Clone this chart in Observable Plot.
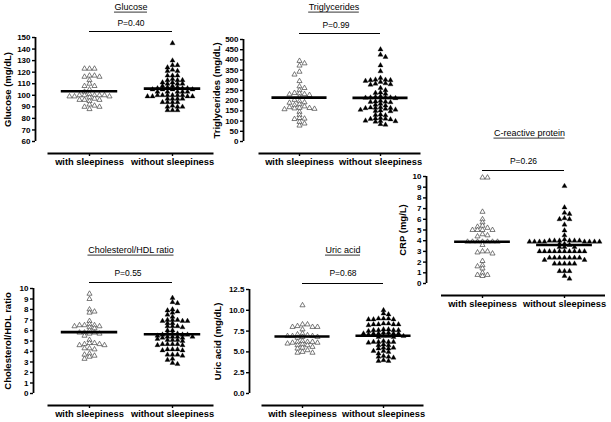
<!DOCTYPE html>
<html><head><meta charset="utf-8">
<script src="https://cdn.jsdelivr.net/npm/d3@7"></script>
<script src="https://cdn.jsdelivr.net/npm/@observablehq/plot@0.6"></script>
<style>
html,body{margin:0;padding:0;background:#fff;}
body{width:611px;height:422px;position:relative;overflow:hidden;font-family:"Liberation Sans",Arial,sans-serif;}
.panel{position:absolute;}
.panel svg{overflow:visible;}
</style></head><body>
<script>
// ---- categories ----
const groups = ["with sleepiness", "without sleepiness"];

// ---- Glucose (mg/dL) ----
const glucoseWith = [123,123,123,117,117,116,116,113,110,108,108,105,103,101,100,100,100,100,100,99,99,99,98,97,96,96,96,95,92,91,90,90,88];
const glucoseWithout = [145,130,126,126,124,122,121,121,117,117,117,114,113,113,113,111,111,110,110,110,108,108,107,107,106,106,106,105,105,105,105,103,103,103,103,103,100,100,100,100,100,100,99,99,99,99,97,97,97,97,94,94,94,94,91,90,90,90,87,87,87];
const glucoseMeans = [103.5, 105.8];
const glucoseTicks = [60,70,80,90,100,110,120,130,140,150];

// ---- Triglycerides (mg/dL) ----
const trigWith = [395,383,372,342,328,296,270,262,251,238,235,232,231,228,218,204,197,192,190,182,178,172,168,165,164,162,160,158,145,130,115,112,110,96,88,78];
const trigWithout = [451,425,414,373,344,311,303,302,300,300,297,292,285,283,280,278,262,251,240,238,234,222,218,216,215,215,214,212,200,196,195,194,192,185,180,176,168,166,165,164,163,160,156,155,152,150,148,132,130,128,115,113,112,110,108,102,100,99,97,85,82];
const trigMeans = [215, 214];
const trigTicks = [0,50,100,150,200,250,300,350,400,450,500];

// ---- C-reactive protein (mg/L) ----
const crpWith = [9.9,9.9,6.7,6.0,5.7,5.4,5.3,5.2,5.0,5.0,5.0,5.0,4.6,4.5,4.4,3.9,3.9,3.9,3.9,3.9,3.9,3.9,3.6,3.0,3.0,2.9,2.8,2.1,1.7,1.6,1.4,1.0,0.8,0.8,0.7];
const crpWithout = [9.1,7.1,6.6,6.5,6.0,6.0,6.1,5.5,4.95,4.5,4.1,4.0,4.0,4.0,3.9,3.9,3.9,3.9,4.0,4.0,3.9,3.9,4.0,3.9,3.9,3.7,3.6,3.7,3.4,3.4,3.4,3.0,3.0,3.0,3.0,3.0,3.0,3.0,3.0,3.0,3.0,2.4,2.4,2.4,2.4,2.4,2.4,2.4,2.2,2.2,1.85,1.85,1.85,1.85,1.85,1.15,1.15,1.15,0.7,0.45];
const crpMeans = [3.9, 3.6];
const crpTicks = [0,1,2,3,4,5,6,7,8,9,10];

// ---- Cholesterol/HDL ratio ----
const cholWith = [9.5,9.0,8.0,7.8,7.7,6.9,6.6,6.5,6.5,6.5,6.4,6.4,6.3,6.2,6.0,5.8,5.8,5.8,5.7,5.7,5.5,5.1,4.8,4.8,4.7,4.7,4.6,4.6,4.3,4.3,4.2,3.8,3.7,3.6,3.5,3.3];
const cholWithout = [9.1,8.7,8.6,8.0,7.9,7.8,7.7,7.5,7.3,7.0,7.0,7.0,6.9,6.9,6.9,6.7,6.7,6.4,6.4,6.4,6.3,6.0,6.0,5.7,5.7,5.7,5.6,5.6,5.6,5.5,5.4,5.4,5.4,5.4,5.3,5.3,5.2,5.1,5.1,5.1,5.0,4.7,4.7,4.7,4.7,4.6,4.6,4.2,4.2,4.2,4.1,4.1,3.7,3.7,3.7,3.6,3.3,3.2,2.9,2.8];
const cholMeans = [5.85, 5.65];
const cholTicks = [0,1,2,3,4,5,6,7,8,9,10];

// ---- Uric acid (mg/dL) ----
const uricWith = [10.6,8.3,8.3,8.1,8.0,8.0,8.0,7.7,7.2,7.1,7.0,6.9,6.9,6.9,6.8,6.8,6.7,6.3,6.2,6.2,6.2,6.1,6.1,6.0,5.9,5.8,5.8,5.6,5.5,5.4,5.0,4.9,4.9,5.2];
const uricWithout = [10.0,9.6,9.5,9.0,9.0,8.9,8.9,8.9,9.0,8.4,8.3,8.3,8.3,8.3,8.2,8.4,7.6,7.6,7.7,7.6,7.5,7.6,7.7,7.2,7.2,7.3,7.2,7.1,7.2,7.3,7.2,6.9,6.9,6.8,6.8,6.9,6.2,6.2,6.3,6.2,6.1,6.2,5.9,5.8,5.8,5.5,5.4,5.4,5.5,5.1,5.1,5.0,4.8,4.4,4.4,4.5,4.3,3.9,3.9,4.0];
const uricMeans = [6.85, 6.95];
const uricTicks = [0,2.5,5,7.5,10,12.5];

// ---- texts ----
const titles = ["Glucose", "Triglycerides", "C-reactive protein", "Cholesterol/HDL ratio", "Uric acid"];
const pValues = ["P=0.40", "P=0.99", "P=0.26", "P=0.55", "P=0.68"];
const yLabels = ["Glucose (mg/dL)", "Triglycerides (mg/dL)", "CRP (mg/L)", "Cholesterol/HDL ratio", "Uric acid (mg/dL)"];

// beeswarm-like spreading (layout only)
function swarm(values, gi, pxPerY, stepUnits) {
  const order = values.map((v, i) => i).sort((a, b) => values[b] - values[a]);
  const placed = [], out = [];
  let side = 1;
  for (const i of order) {
    const v = values[i];
    let o = 0;
    for (let k = 0; k < 60; k++) {
      const cands = k === 0 ? [0] : [k * side, -k * side];
      const ok = cands.find(c => placed.every(q => Math.abs(q.o - c) >= 1 || Math.abs(q.v - v) * pxPerY >= 3.0));
      if (ok !== undefined) { o = ok; break; }
    }
    if (o !== 0) side = -Math.sign(o);
    placed.push({o, v});
    out.push({x: gi + o * stepUnits, v});
  }
  return out;
}

const FONT = '"Liberation Sans", Arial, sans-serif';
const TITLE_SIZE = 9;
const measureCtx = document.createElement("canvas").getContext("2d");
measureCtx.font = `${TITLE_SIZE}px "Liberation Sans", Arial, sans-serif`;

function panel(cfg) {
  const {left, top, width, height, axisX, yTopPx, yBotPx, c0, c1, domain, ticks, fmt,
         d0, d1, means, title, pText, yLabel, labelX, titleY, pY, bracketY, titleDx = 0, pDx = 0} = cfg;
  const pxPerY = (yBotPx - yTopPx) / (domain[1] - domain[0]);
  const pxPerX = c1 - c0;
  const step = 5.0 / pxPerX;
  const p0 = swarm(d0, 0, pxPerY, step);
  const p1 = swarm(d1, 1, pxPerY, step);
  const frameBottom = yBotPx + 12 - top;
  const tw = measureCtx.measureText(title).width;
  const plot = Plot.plot({
    width, height,
    marginLeft: axisX - left, marginRight: 0,
    marginTop: yTopPx - top, marginBottom: height - frameBottom,
    x: {domain: [0, 1], range: [c0 - left, c1 - left], label: null},
    y: {domain, range: [yBotPx - top, yTopPx - top], label: null},
    style: {background: "transparent", fontFamily: FONT, color: "#000", overflow: "visible"},
    marks: [
      Plot.ruleX([(axisX - c0) / pxPerX], {y1: domain[0], y2: domain[1], strokeWidth: 1.8, stroke: "#000"}),
      Plot.axisY({ticks, tickFormat: fmt, tickSize: 3, tickPadding: 2, strokeWidth: 1.4, fontSize: 8, fontWeight: "bold", label: null}),
      Plot.ruleY([domain[0]], {x1: -0.5, x2: 1.5, dy: 12, strokeWidth: 2, stroke: "#000"}),
      Plot.axisX({ticks: [0, 1], tickFormat: i => groups[i], tickSize: 3, tickPadding: 2, strokeWidth: 1.4, fontSize: 9.3, fontWeight: "bold", label: null}),
      Plot.dot(p0, {x: "x", y: "v", symbol: "triangle", r: 1.9, fill: "#fff", stroke: "#444", strokeWidth: 0.7}),
      Plot.dot(p1, {x: "x", y: "v", symbol: "triangle", r: 1.9, fill: "#000", stroke: "#000", strokeWidth: 0.3}),
      Plot.ruleY(means, {y: d => d, x1: (d, i) => i - 0.34, x2: (d, i) => i + 0.34, strokeWidth: 2.6, stroke: "#000"}),
      Plot.ruleY([domain[1]], {x1: 0, x2: 1, dy: bracketY - yTopPx, strokeWidth: 1, stroke: "#000"}),
      Plot.text([pText], {x: 0.5, y: domain[1], dy: pY - yTopPx, dx: pDx, fontSize: 8.5, fill: "#000"}),
      Plot.text([title], {x: 0.5, y: domain[1], dy: titleY - yTopPx, dx: titleDx, fontSize: TITLE_SIZE, fill: "#000"}),
      // underline of the title
      Plot.ruleY([domain[1]], {x1: 0.5 + (titleDx - tw / 2) / pxPerX, x2: 0.5 + (titleDx + tw / 2) / pxPerX,
        dy: titleY - yTopPx + 4.6, strokeWidth: 0.8, stroke: "#000"}),
      Plot.text([yLabel], {x: (labelX - c0) / pxPerX, y: (domain[0] + domain[1]) / 2, rotate: -90, fontSize: 9.5, fontWeight: "bold", fill: "#000"})
    ]
  });
  const div = document.createElement("div");
  div.className = "panel";
  div.style.left = left + "px";
  div.style.top = top + "px";
  div.appendChild(plot);
  document.body.appendChild(div);
}

const intFmt = d => String(d);
const oneFmt = d3.format(".1f");

panel({left: 0, top: 0, width: 215, height: 175, axisX: 35, yTopPx: 37, yBotPx: 141, c0: 89, c1: 172,
  domain: [60, 150], ticks: glucoseTicks, fmt: intFmt, d0: glucoseWith, d1: glucoseWithout, means: glucoseMeans,
  title: titles[0], pText: pValues[0], yLabel: yLabels[0], labelX: 7, titleY: 7, pY: 23, bracketY: 31});

panel({left: 205, top: 0, width: 220, height: 175, axisX: 243, yTopPx: 39, yBotPx: 141, c0: 299, c1: 380,
  domain: [0, 500], ticks: trigTicks, fmt: intFmt, d0: trigWith, d1: trigWithout, means: trigMeans,
  title: titles[1], pText: pValues[1], yLabel: yLabels[1], labelX: 216, titleY: 7, pY: 25, bracketY: 33, titleDx: -6, pDx: -4});

panel({left: 395, top: 120, width: 216, height: 200, axisX: 426, yTopPx: 176, yBotPx: 283, c0: 482, c1: 564,
  domain: [0, 10], ticks: crpTicks, fmt: intFmt, d0: crpWith, d1: crpWithout, means: crpMeans,
  title: titles[2], pText: pValues[2], yLabel: yLabels[2], labelX: 402, titleY: 133, pY: 161, bracketY: 170, titleDx: 6});

panel({left: 0, top: 240, width: 215, height: 182, axisX: 33, yTopPx: 288, yBotPx: 393, c0: 89, c1: 172,
  domain: [0, 10], ticks: cholTicks, fmt: intFmt, d0: cholWith, d1: cholWithout, means: cholMeans,
  title: titles[3], pText: pValues[3], yLabel: yLabels[3], labelX: 7, titleY: 250, pY: 273, bracketY: 282, pDx: -3});

panel({left: 205, top: 240, width: 220, height: 182, axisX: 249, yTopPx: 289, yBotPx: 393, c0: 302, c1: 383,
  domain: [0, 12.5], ticks: uricTicks, fmt: oneFmt, d0: uricWith, d1: uricWithout, means: uricMeans,
  title: titles[4], pText: pValues[4], yLabel: yLabels[4], labelX: 217, titleY: 250, pY: 273, bracketY: 283});
</script>
</body></html>
